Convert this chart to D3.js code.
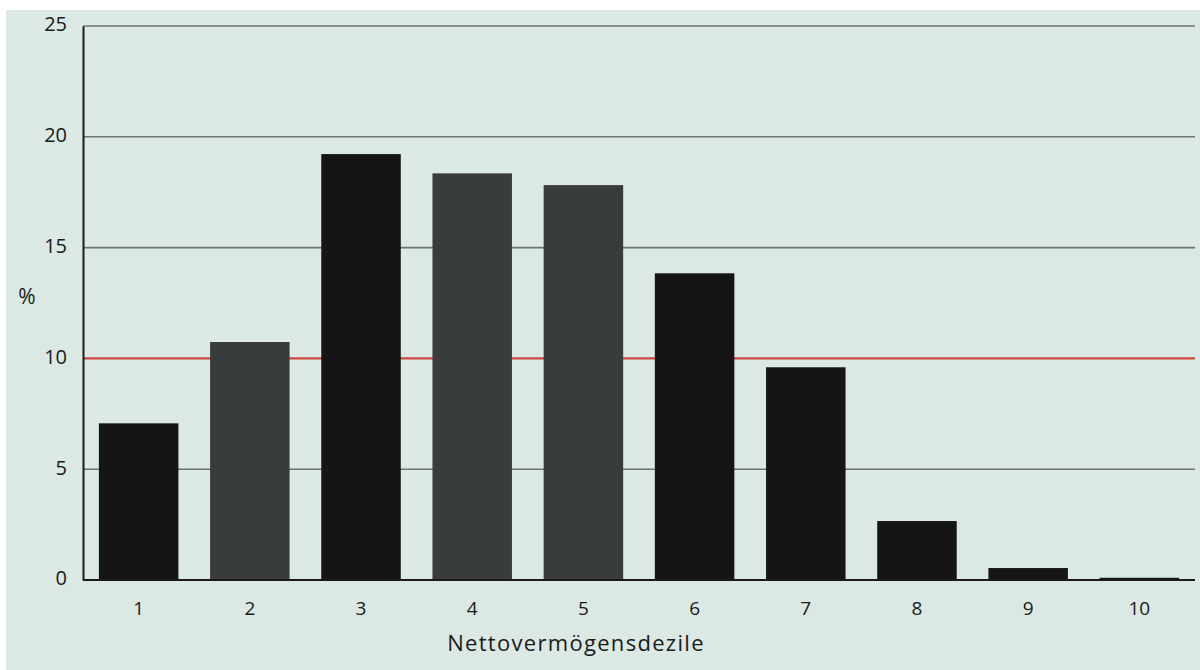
<!DOCTYPE html>
<html><head><meta charset="utf-8">
<script src="https://cdn.jsdelivr.net/npm/d3@7"></script>
<style>html,body{margin:0;padding:0;background:#fff;}svg{display:block;}</style>
</head><body>
<script>
const categories = ["1","2","3","4","5","6","7","8","9","10"];
const values = [7.07, 10.74, 19.22, 18.35, 17.82, 13.84, 9.6, 2.66, 0.54, 0.1];
const highlighted = ["2","4","5"];
const yTicks = [0, 5, 10, 15, 20, 25];
const referenceValue = 10;
const yLabel = "%";
const xLabel = "Nettovermögensdezile";

const W = 1200, H = 670;
const svg = d3.select("body").append("svg").attr("width", W).attr("height", H);
svg.append("rect").attr("x", 6).attr("y", 10).attr("width", W - 6).attr("height", H - 10).attr("fill", "#dbe8e3");

const x = d3.scaleBand().domain(categories).range([83, 1195]).paddingInner(0.285).paddingOuter(0.143);
const y = d3.scaleLinear().domain([0, 25]).range([580, 26]);

// gridlines
svg.append("g").selectAll("line").data(yTicks.filter(t => t > 0 && t !== referenceValue)).join("line")
  .attr("x1", 83).attr("x2", 1195).attr("y1", d => y(d)).attr("y2", d => y(d))
  .attr("stroke", "#6b7571").attr("stroke-width", 1.6);
svg.append("line").attr("x1", 83).attr("x2", 1195).attr("y1", y(referenceValue)).attr("y2", y(referenceValue))
  .attr("stroke", "#d0463f").attr("stroke-width", 2.2);

// bars
svg.append("g").selectAll("rect").data(values).join("rect")
  .attr("x", (d, i) => x(categories[i]))
  .attr("width", x.bandwidth())
  .attr("y", d => y(d))
  .attr("height", d => y(0) - y(d))
  .attr("fill", (d, i) => highlighted.includes(categories[i]) ? "#383d3b" : "#151515");

// axes
const yAxis = d3.axisLeft(y).tickValues(yTicks).tickSize(0).tickPadding(16);
const gy = svg.append("g").attr("transform", "translate(83,0)").call(yAxis);
gy.select(".domain").attr("stroke", "#1a1a1a").attr("stroke-width", 2);
gy.selectAll("text").attr("font-family", "Open Sans").attr("font-size", 20).attr("fill", "#1a1a1a").attr("dy", "0.24em");

const xAxis = d3.axisBottom(x).tickSize(0).tickPadding(22);
const gx = svg.append("g").attr("transform", "translate(0,580)").call(xAxis);
gx.select(".domain").attr("stroke", "#1a1a1a").attr("stroke-width", 2.2).attr("d", "M83,0H1195");
gx.selectAll("text").attr("font-family", "Open Sans").attr("font-size", 19).attr("fill", "#1a1a1a");

svg.append("text").attr("x", 27).attr("y", 304).attr("text-anchor", "middle")
  .attr("font-family", "Open Sans").attr("font-size", 21).attr("fill", "#1a1a1a").text(yLabel);
svg.append("text").attr("x", 576).attr("y", 651).attr("text-anchor", "middle")
  .attr("font-family", "Open Sans").attr("font-size", 22).attr("letter-spacing", "1.3px").attr("fill", "#1a1a1a").text(xLabel);
</script>
</body></html>
